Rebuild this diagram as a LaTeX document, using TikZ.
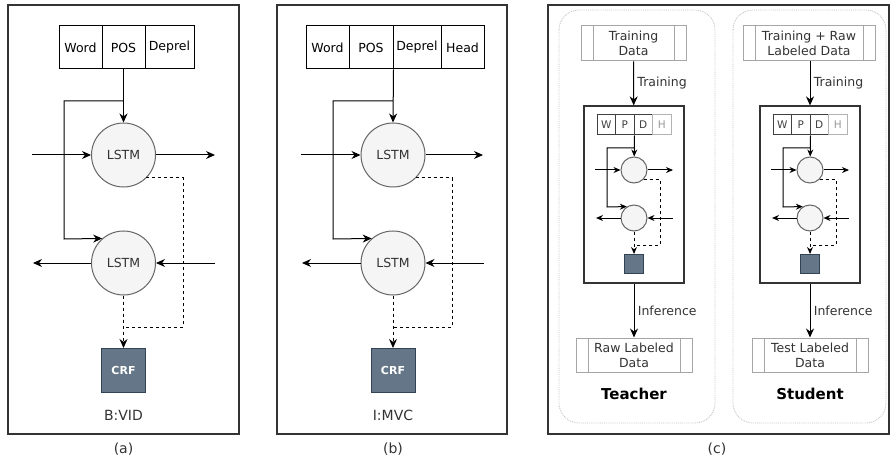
\documentclass[tikz,border=0pt]{standalone}
\usepackage{fontspec}
\setmainfont{DejaVu Sans}
\usetikzlibrary{arrows.meta}

\definecolor{lstmfill}{HTML}{F5F5F5}
\definecolor{lstmline}{HTML}{666666}
\definecolor{lstmtext}{HTML}{333333}
\definecolor{crffill}{HTML}{647687}
\definecolor{crfline}{HTML}{314354}
\definecolor{procline}{HTML}{A6A6A6}
\definecolor{teamline}{HTML}{C4C4C4}

\begin{document}
\begin{tikzpicture}[
    x=1pt, y=-1pt,
    line width=1pt,
    >={Stealth[length=9pt,width=8pt]},
    smallarrow/.style={-{Stealth[length=7pt,width=6pt]}},
    panel/.style={draw=black!80, line width=1.2pt},
    fieldbox/.style={draw, minimum height=43pt, inner sep=0pt, font=\fontsize{12.5}{14}\selectfont},
    wpdh/.style={draw=black!75, minimum height=20pt, minimum width=18.5pt, inner sep=0pt, text=black!75, font=\fontsize{10.5}{12}\selectfont},
    lstm/.style={circle, draw=lstmline, fill=lstmfill, minimum size=64pt, inner sep=0pt, text=lstmtext, font=\fontsize{12.5}{14}\selectfont},
    crf/.style={draw=crfline, fill=crffill, minimum size=44pt, inner sep=0pt, text=white, font=\bfseries\fontsize{11}{13}\selectfont},
    proc/.style={draw=procline, inner sep=0pt, align=center, text=lstmtext, font=\fontsize{12.5}{15}\selectfont,
        path picture={
            \draw[procline] ([xshift=12pt]path picture bounding box.north west) -- ([xshift=12pt]path picture bounding box.south west);
            \draw[procline] ([xshift=-12pt]path picture bounding box.north east) -- ([xshift=-12pt]path picture bounding box.south east);
        }},
    teambox/.style={draw=teamline, densely dotted, line width=0.9pt, rounded corners=20pt},
    caption/.style={text=lstmtext, font=\fontsize{14}{16}\selectfont}
]
\useasboundingbox (0,0) rectangle (890,470);

% Panel (a)
\draw[panel] (8,5) rectangle (239,434);
\node[fieldbox, minimum width=43pt] (a-word) at (80.5,47.5) {Word};
\node[fieldbox, minimum width=43pt] (a-pos) at (123.5,47.5) {POS};
\node[fieldbox, minimum width=49pt] (a-deprel) at (169.5,47.5) {Deprel};

\node[lstm] (a-fwd) at (123.5,155) {LSTM};
\node[lstm] (a-bwd) at (123.5,263) {LSTM};
\node[crf] (a-crf) at (123.5,370.5) {CRF};
\node[caption] (a-name) at (123.5,415) {B:VID};
\node[caption] (a-cap) at (123.5,449) {(a)};

\coordinate (a-split) at (123.5,101);
\coordinate (a-turn) at (64,239);
\coordinate (a-in1) at (32,155);
\coordinate (a-out1) at (215,155);
\coordinate (a-out2) at (33,263);
\coordinate (a-in2) at (215,263);
\coordinate (a-dash) at (183,327);

\draw[->] (a-pos.south) -- (a-fwd.north);
\draw[->] (a-split) -| (a-turn) -- (a-bwd.131);
\draw[->] (a-in1) -- (a-fwd);
\draw[->] (a-fwd) -- (a-out1);
\draw[->] (a-bwd) -- (a-out2);
\draw[->] (a-in2) -- (a-bwd);
\draw[dashed] (a-fwd.-45) -| (a-dash) -- (a-dash -| a-crf);
\draw[dashed,->] (a-bwd) -- (a-crf);

% Panel (b)
\draw[panel] (277,5) rectangle (507,434);
\node[fieldbox, minimum width=43pt] (b-word) at (327.5,47.5) {Word};
\node[fieldbox, minimum width=44pt] (b-pos) at (371,47.5) {POS};
\node[fieldbox, minimum width=48pt] (b-deprel) at (417,47.5) {Deprel};
\node[fieldbox, minimum width=43pt] (b-head) at (462.5,47.5) {Head};

\node[lstm] (b-fwd) at (393,155) {LSTM};
\node[lstm] (b-bwd) at (393,263) {LSTM};
\node[crf] (b-crf) at (393,370.5) {CRF};
\node[caption] (b-name) at (393,415) {I:MVC};
\node[caption] (b-cap) at (393,449) {(b)};

\coordinate (b-split) at (393,101);
\coordinate (b-turn) at (333,239);
\coordinate (b-in1) at (301,155);
\coordinate (b-out1) at (483,155);
\coordinate (b-out2) at (302,263);
\coordinate (b-in2) at (484,263);
\coordinate (b-dash) at (452,327);

\draw[->] (b-pos.south east) -- (b-fwd.north);
\draw[->] (b-split) -| (b-turn) -- (b-bwd.131);
\draw[->] (b-in1) -- (b-fwd);
\draw[->] (b-fwd) -- (b-out1);
\draw[->] (b-bwd) -- (b-out2);
\draw[->] (b-in2) -- (b-bwd);
\draw[dashed] (b-fwd.-45) -| (b-dash) -- (b-dash -| b-crf);
\draw[dashed,->] (b-bwd) -- (b-crf);

% Panel (c)
\draw[panel] (548,5) rectangle (889,434);
\node[caption] (c-cap) at (717,449) {(c)};

% Teacher
\draw[teambox] (559,10) rectangle (715,423);
\node[proc, minimum width=105pt, minimum height=35pt] (t-data) at (633.5,43.5) {Training\\Data};
\node[draw=black!80, line width=1.2pt, minimum width=100pt, minimum height=177pt, inner sep=0pt] (t-net) at (634,194.5) {};
\node[wpdh] (t-w) at (606.25,125) {W};
\node[wpdh] (t-p) at (624.75,125) {P};
\node[wpdh] (t-d) at (643.25,125) {D};
\node[wpdh, draw=black!30, text=black!40] (t-h) at (661.75,125) {H};
\node[lstm, minimum size=26pt] (t-fwd) at (634,170) {};
\node[lstm, minimum size=26pt] (t-bwd) at (634,218) {};
\node[crf, minimum size=19pt] (t-sq) at (634,264) {};
\node[proc, minimum width=116pt, minimum height=34pt] (t-raw) at (634,355) {Raw Labeled\\Data};
\node[font=\bfseries\fontsize{15}{18}\selectfont] (t-name) at (634,394) {Teacher};

\coordinate (t-split) at (634,148);
\coordinate (t-turn) at (607,207);
\coordinate (t-in1) at (595,170);
\coordinate (t-out1) at (673,170);
\coordinate (t-out2) at (596,218);
\coordinate (t-in2) at (673,218);
\coordinate (t-dash) at (660,245);

\draw[->] (t-data) -- node[right, text=lstmtext, font=\fontsize{12.5}{14}\selectfont] {Training} (t-net);
\draw[smallarrow] (t-p.south east) -- (t-fwd);
\draw[smallarrow] (t-split) -| (t-turn) -- (t-bwd.122);
\draw[smallarrow] (t-in1) -- (t-fwd);
\draw[smallarrow] (t-fwd) -- (t-out1);
\draw[smallarrow] (t-bwd) -- (t-out2);
\draw[smallarrow] (t-in2) -- (t-bwd);
\draw[dashed] (t-fwd.-45) -| (t-dash) -- (t-dash -| t-sq);
\draw[dashed,smallarrow] (t-bwd) -- (t-sq);
\draw[->] (t-net) -- node[right, text=lstmtext, font=\fontsize{12.5}{14}\selectfont] {Inference} (t-raw);

% Student
\draw[teambox] (733,10) rectangle (886,423);
\node[proc, minimum width=132pt, minimum height=35pt] (s-data) at (809,43.5) {Training + Raw\\Labeled Data};
\node[draw=black!80, line width=1.2pt, minimum width=100pt, minimum height=177pt, inner sep=0pt] (s-net) at (810,194.5) {};
\node[wpdh] (s-w) at (782.25,125) {W};
\node[wpdh] (s-p) at (800.75,125) {P};
\node[wpdh] (s-d) at (819.25,125) {D};
\node[wpdh, draw=black!30, text=black!40] (s-h) at (837.75,125) {H};
\node[lstm, minimum size=26pt] (s-fwd) at (810,170) {};
\node[lstm, minimum size=26pt] (s-bwd) at (810,218) {};
\node[crf, minimum size=19pt] (s-sq) at (810,264) {};
\node[proc, minimum width=116pt, minimum height=34pt] (s-test) at (810,355) {Test Labeled\\Data};
\node[font=\bfseries\fontsize{15}{18}\selectfont] (s-name) at (810,394) {Student};

\coordinate (s-split) at (810,148);
\coordinate (s-turn) at (783,207);
\coordinate (s-in1) at (771,170);
\coordinate (s-out1) at (849,170);
\coordinate (s-out2) at (772,218);
\coordinate (s-in2) at (849,218);
\coordinate (s-dash) at (836,245);

\draw[->] (s-data.south -| s-net) -- node[right, text=lstmtext, font=\fontsize{12.5}{14}\selectfont] {Training} (s-net);
\draw[smallarrow] (s-p.south east) -- (s-fwd);
\draw[smallarrow] (s-split) -| (s-turn) -- (s-bwd.122);
\draw[smallarrow] (s-in1) -- (s-fwd);
\draw[smallarrow] (s-fwd) -- (s-out1);
\draw[smallarrow] (s-bwd) -- (s-out2);
\draw[smallarrow] (s-in2) -- (s-bwd);
\draw[dashed] (s-fwd.-45) -| (s-dash) -- (s-dash -| s-sq);
\draw[dashed,smallarrow] (s-bwd) -- (s-sq);
\draw[->] (s-net) -- node[right, text=lstmtext, font=\fontsize{12.5}{14}\selectfont] {Inference} (s-test);

\end{tikzpicture}
\end{document}
